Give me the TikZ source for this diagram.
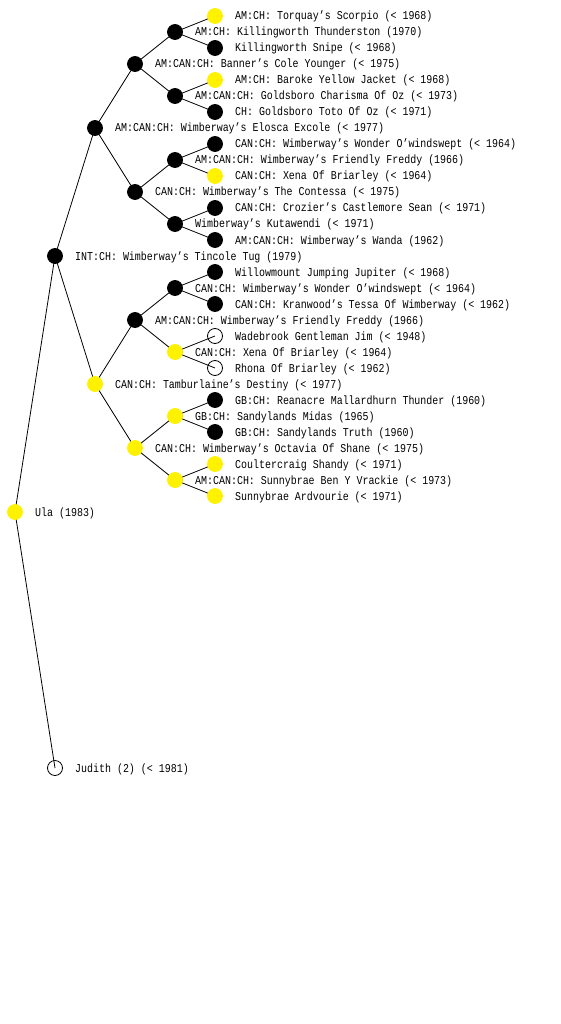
\documentclass[tikz,border=0pt]{standalone}
\usepackage{fontspec}
\setmonofont[FakeStretch=0.83]{Liberation Mono}
\usetikzlibrary{backgrounds}
\tikzset{
  pnode/.style={circle, minimum size=15pt, inner sep=0pt, line width=0.8pt},
  blk/.style={pnode, draw=black, fill=black},
  ylw/.style={pnode, draw=yellow, fill=yellow},
  wht/.style={pnode, draw=black},
  lbl/.style={anchor=base west, inner sep=0pt, font=\ttfamily\fontsize{12}{12}\selectfont},
  edge/.style={draw=black, line width=0.8pt}
}
\newcommand\pn[5]{\node[#4] (n#1) at (#2,#3) {}; \node[lbl] (l#1) at (#2+20,#3+4) {#5};}
\begin{document}
\begin{tikzpicture}[x=1pt,y=-1pt]
\useasboundingbox (0,0) rectangle (560,1024);
\pn{1}{15}{512}{ylw}{Ula (1983)}
\pn{2}{55}{256}{blk}{INT:CH: Wimberway’s Tincole Tug (1979)}
\pn{3}{55}{768}{wht}{Judith (2) (< 1981)}
\pn{4}{95}{128}{blk}{AM:CAN:CH: Wimberway’s Elosca Excole (< 1977)}
\pn{5}{95}{384}{ylw}{CAN:CH: Tamburlaine’s Destiny (< 1977)}
\pn{8}{135}{64}{blk}{AM:CAN:CH: Banner’s Cole Younger (< 1975)}
\pn{9}{135}{192}{blk}{CAN:CH: Wimberway’s The Contessa (< 1975)}
\pn{10}{135}{320}{blk}{AM:CAN:CH: Wimberway’s Friendly Freddy (1966)}
\pn{11}{135}{448}{ylw}{CAN:CH: Wimberway’s Octavia Of Shane (< 1975)}
\pn{16}{175}{32}{blk}{AM:CH: Killingworth Thunderston (1970)}
\pn{17}{175}{96}{blk}{AM:CAN:CH: Goldsboro Charisma Of Oz (< 1973)}
\pn{18}{175}{160}{blk}{AM:CAN:CH: Wimberway’s Friendly Freddy (1966)}
\pn{19}{175}{224}{blk}{Wimberway’s Kutawendi (< 1971)}
\pn{20}{175}{288}{blk}{CAN:CH: Wimberway’s Wonder O’windswept (< 1964)}
\pn{21}{175}{352}{ylw}{CAN:CH: Xena Of Briarley (< 1964)}
\pn{22}{175}{416}{ylw}{GB:CH: Sandylands Midas (1965)}
\pn{23}{175}{480}{ylw}{AM:CAN:CH: Sunnybrae Ben Y Vrackie (< 1973)}
\pn{32}{215}{16}{ylw}{AM:CH: Torquay’s Scorpio (< 1968)}
\pn{33}{215}{48}{blk}{Killingworth Snipe (< 1968)}
\pn{34}{215}{80}{ylw}{AM:CH: Baroke Yellow Jacket (< 1968)}
\pn{35}{215}{112}{blk}{CH: Goldsboro Toto Of Oz (< 1971)}
\pn{36}{215}{144}{blk}{CAN:CH: Wimberway’s Wonder O’windswept (< 1964)}
\pn{37}{215}{176}{ylw}{CAN:CH: Xena Of Briarley (< 1964)}
\pn{38}{215}{208}{blk}{CAN:CH: Crozier’s Castlemore Sean (< 1971)}
\pn{39}{215}{240}{blk}{AM:CAN:CH: Wimberway’s Wanda (1962)}
\pn{40}{215}{272}{blk}{Willowmount Jumping Jupiter (< 1968)}
\pn{41}{215}{304}{blk}{CAN:CH: Kranwood’s Tessa Of Wimberway (< 1962)}
\pn{42}{215}{336}{wht}{Wadebrook Gentleman Jim (< 1948)}
\pn{43}{215}{368}{wht}{Rhona Of Briarley (< 1962)}
\pn{44}{215}{400}{blk}{GB:CH: Reanacre Mallardhurn Thunder (1960)}
\pn{45}{215}{432}{blk}{GB:CH: Sandylands Truth (1960)}
\pn{46}{215}{464}{ylw}{Coultercraig Shandy (< 1971)}
\pn{47}{215}{496}{ylw}{Sunnybrae Ardvourie (< 1971)}
\begin{pgfonlayer}{background}
\foreach \a/\b in {1/2,1/3,2/4,2/5,4/8,4/9,5/10,5/11,8/16,8/17,9/18,9/19,10/20,10/21,11/22,11/23,16/32,16/33,17/34,17/35,18/36,18/37,19/38,19/39,20/40,20/41,21/42,21/43,22/44,22/45,23/46,23/47}
  \draw[edge] (n\a.center) -- (n\b.center);
\end{pgfonlayer}
\end{tikzpicture}
\end{document}
